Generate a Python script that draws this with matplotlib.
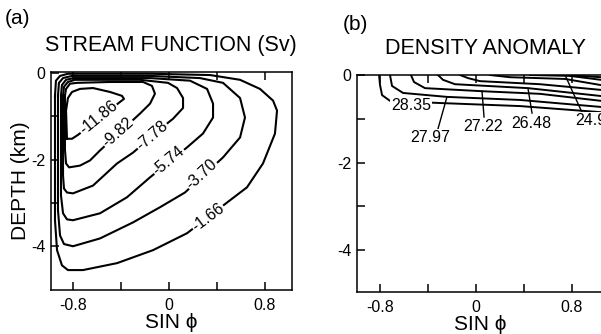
import matplotlib
matplotlib.use("Agg")
import matplotlib.pyplot as plt
import numpy as np

plt.rcParams["font.family"] = ["Liberation Sans", "DejaVu Sans"]
plt.rcParams["axes.unicode_minus"] = False

# ---- (a) stream function contours (sin phi, depth km) ----
sf_166 = [(-0.950, -0.53), (-0.942, -0.18), (-0.908, -0.07), (-0.842, -0.02), (-0.158, -0.02),
          (0.342, -0.05), (0.592, -0.16), (0.758, -0.37), (0.867, -0.64), (0.900, -0.87),
          (0.883, -1.40), (0.783, -2.09), (0.650, -2.64), (0.508, -2.94), (0.150, -3.70),
          (-0.133, -4.09), (-0.433, -4.39), (-0.717, -4.55), (-0.842, -4.55), (-0.892, -4.44),
          (-0.933, -4.09), (-0.950, -3.40)]
sf_370 = [(-0.925, -0.53), (-0.917, -0.23), (-0.883, -0.12), (-0.808, -0.07), (-0.158, -0.07),
          (0.258, -0.12), (0.450, -0.23), (0.592, -0.58), (0.633, -1.03), (0.592, -1.49),
          (0.450, -1.95), (0.133, -2.76), (-0.075, -3.10), (-0.300, -3.45), (-0.575, -3.82),
          (-0.800, -4.00), (-0.875, -3.95), (-0.908, -3.75), (-0.925, -3.17)]
sf_574 = [(-0.900, -0.53), (-0.892, -0.28), (-0.858, -0.16), (-0.792, -0.12), (-0.158, -0.12),
          (0.175, -0.18), (0.317, -0.37), (0.367, -0.71), (0.367, -1.03), (0.283, -1.40),
          (0.150, -1.72), (-0.158, -2.41), (-0.350, -2.87), (-0.575, -3.24), (-0.800, -3.40),
          (-0.850, -3.38), (-0.883, -3.24), (-0.900, -2.83)]
sf_778 = [(-0.883, -0.53), (-0.875, -0.32), (-0.842, -0.21), (-0.783, -0.16), (-0.242, -0.16),
          (-0.008, -0.23), (0.067, -0.35), (0.117, -0.58), (0.117, -0.81), (0.033, -1.06),
          (-0.008, -1.15), (-0.300, -1.84), (-0.433, -2.09), (-0.633, -2.60), (-0.800, -2.78),
          (-0.850, -2.76), (-0.875, -2.67), (-0.883, -2.37)]
sf_982 = [(-0.867, -0.53), (-0.858, -0.37), (-0.825, -0.25), (-0.767, -0.23), (-0.492, -0.21),
          (-0.217, -0.21), (-0.142, -0.30), (-0.117, -0.48), (-0.158, -0.71), (-0.242, -0.94),
          (-0.575, -1.79), (-0.658, -2.02), (-0.742, -2.14), (-0.833, -2.18), (-0.858, -2.09),
          (-0.867, -1.77)]
sf_1186 = [(-0.850, -1.52), (-0.858, -0.87), (-0.842, -0.58), (-0.808, -0.44), (-0.742, -0.37),
           (-0.633, -0.35), (-0.492, -0.44), (-0.392, -0.53), (-0.375, -0.60), (-0.408, -0.67),
           (-0.758, -1.43), (-0.808, -1.52)]
sf_contours = [sf_1186, sf_982, sf_778, sf_574, sf_370, sf_166]
sf_labels = ["-11.86", "-9.82", "-7.78", "-5.74", "-3.70", "-1.66"]
sf_label_pos = [(-0.59, -1.04), (-0.425, -1.38), (-0.142, -1.45), (-0.008, -2.02),
                (0.275, -2.35), (0.325, -3.33)]
sf_label_rot = [39, 42, 41, 40, 43, 37]

# ---- (b) density anomaly contours ----
rho_1 = [(-0.808, 0.0), (-0.800, -0.23), (-0.783, -0.46), (-0.717, -0.59), (-0.300, -0.64),
         (0.367, -0.71), (1.042, -0.85), (1.10, -0.86)]
rho_2 = [(-0.717, 0.0), (-0.700, -0.25), (-0.608, -0.41), (-0.242, -0.50), (0.367, -0.57),
         (1.042, -0.73), (1.10, -0.74)]
rho_3 = [(-0.542, 0.0), (-0.517, -0.16), (-0.425, -0.30), (0.050, -0.37), (0.533, -0.43),
         (1.042, -0.59), (1.10, -0.60)]
rho_4 = [(-0.317, 0.0), (-0.275, -0.11), (-0.175, -0.21), (0.433, -0.30), (1.042, -0.48),
         (1.10, -0.49)]
rho_5 = [(-0.133, 0.0), (-0.067, -0.07), (0.033, -0.14), (0.533, -0.21), (1.042, -0.34),
         (1.10, -0.35)]
rho_6 = [(0.117, 0.0), (0.283, -0.05), (0.742, -0.09), (1.042, -0.23), (1.10, -0.24)]
rho_7 = [(0.450, 0.0), (0.783, -0.02), (1.042, -0.11), (1.10, -0.12)]
rho_8 = [(0.742, 0.0), (1.042, -0.05), (1.10, -0.06)]
rho_contours = [rho_1, rho_2, rho_3, rho_4, rho_5, rho_6, rho_7, rho_8]
rho_labels = ["28.35", "27.97", "27.22", "26.48", "24.98"]
rho_label_pos = [(-0.542, -0.69), (-0.383, -1.42), (0.058, -1.17), (0.458, -1.10), (0.825, -1.03)]
rho_leaders = [None,
               [(-0.317, -1.23), (-0.242, -0.50)],
               [(0.067, -0.96), (0.050, -0.37)],
               [(0.467, -0.87), (0.433, -0.30)],
               [(0.883, -0.85), (0.742, 0.0)]]

x_ticks = [-0.8, -0.4, 0.0, 0.4, 0.8]
x_ticklabels = ["-0.8", "", "0", "", "0.8"]
y_ticks = [0, -1, -2, -3, -4]
y_ticklabels = ["0", "", "-2", "", "-4"]

fig = plt.figure(figsize=(6.01, 3.34), dpi=100)
ax_a = fig.add_axes([0.0849, 0.1317, 0.4010, 0.6527])
ax_b = fig.add_axes([0.5940, 0.1257, 0.4110, 0.6497])


def style_axes(ax, xlim, ylim):
    ax.set_xlim(*xlim)
    ax.set_ylim(*ylim)
    ax.set_xticks(x_ticks)
    ax.set_xticklabels(x_ticklabels)
    ax.set_yticks(y_ticks)
    ax.set_yticklabels(y_ticklabels)
    ax.tick_params(direction="in", length=6, width=1.1, labelsize=11.5,
                   top=True, right=False, color="black")
    ax.tick_params(axis="x", pad=6)
    ax.tick_params(axis="y", pad=4)
    for s in ax.spines.values():
        s.set_linewidth(1.1)
    ax.set_xlabel("SIN ϕ", fontsize=15, labelpad=0)


# (a)
for pts in sf_contours:
    arr = np.array(pts + [pts[0]])
    ax_a.plot(arr[:, 0], arr[:, 1], color="black", lw=1.5, solid_joinstyle="round")
for lab, (lx, ly), rot in zip(sf_labels, sf_label_pos, sf_label_rot):
    ax_a.text(lx, ly, lab, rotation=rot, ha="center", va="center", fontsize=11.5,
              rotation_mode="anchor",
              bbox=dict(boxstyle="square,pad=0.05", fc="white", ec="none"))
style_axes(ax_a, (-0.983, 1.025), (-5.01, 0.02))
ax_a.set_ylabel("DEPTH (km)", fontsize=15, labelpad=1)

# (b)
for pts in rho_contours:
    arr = np.array(pts)
    ax_b.plot(arr[:, 0], arr[:, 1], color="black", lw=1.4)
for i, lab in enumerate(rho_labels):
    lx, ly = rho_label_pos[i]
    ha = "left" if i == len(rho_labels) - 1 else "center"
    ax_b.text(lx, ly, lab, ha=ha, va="center", fontsize=11.5,
              bbox=dict(boxstyle="square,pad=0.05", fc="white", ec="none"))
    if rho_leaders[i] is not None:
        (x0, y0), (x1, y1) = rho_leaders[i]
        ax_b.plot([x0, x1], [y0, y1], color="black", lw=1.0)
style_axes(ax_b, (-0.992, 1.067), (-4.96, 0.0))
ax_b.spines["right"].set_visible(False)

fig.text(5 / 601, 1 - 19 / 334, "(a)", fontsize=15, ha="left", va="center")
fig.text(171 / 601, 1 - 45 / 334, "STREAM FUNCTION (Sv)", fontsize=15.5, ha="center", va="center")
fig.text(343 / 601, 1 - 24 / 334, "(b)", fontsize=15, ha="left", va="center")
fig.text(485 / 601, 1 - 49 / 334, "DENSITY ANOMALY", fontsize=15.5, ha="center", va="center")

fig.savefig("out.png", dpi=100)
